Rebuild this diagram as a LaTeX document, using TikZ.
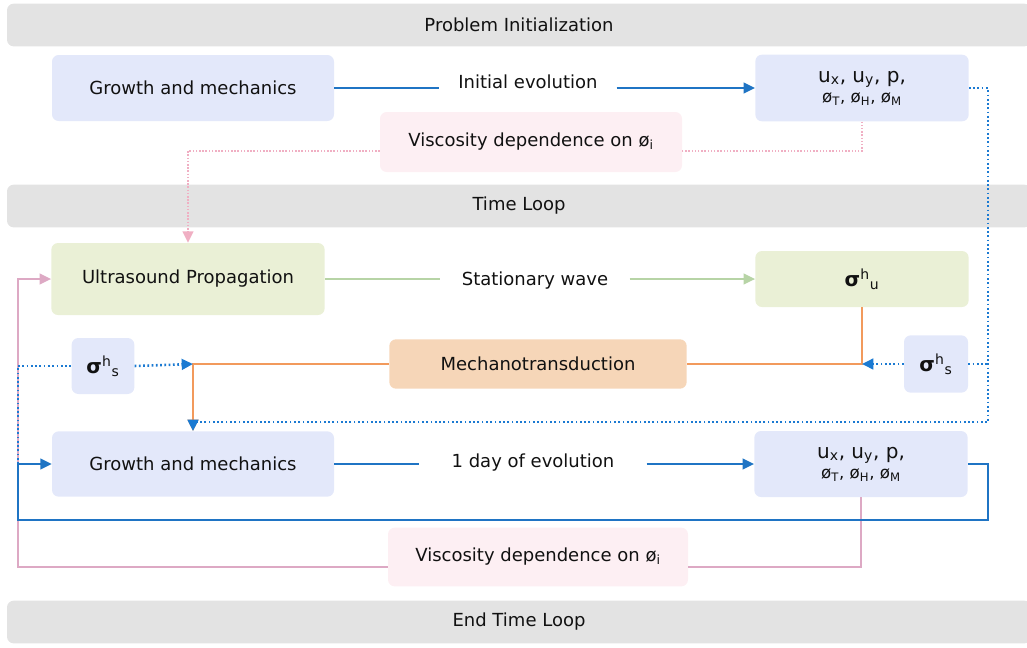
\documentclass[tikz,border=0pt]{standalone}
\usepackage{fontspec}
\setmainfont{DejaVu Sans}
\usetikzlibrary{arrows.meta,positioning}

\definecolor{bandgray}{HTML}{E3E3E3}
\definecolor{gmblue}{HTML}{E3E8FA}
\definecolor{usgreen}{HTML}{EAF0D6}
\definecolor{vispink}{HTML}{FDEFF3}
\definecolor{mechorange}{HTML}{F6D6B8}
\definecolor{lineblue}{HTML}{1F74C4}
\definecolor{dotblue}{HTML}{1B7AD2}
\definecolor{linegreen}{HTML}{B7D4A6}
\definecolor{lineorange}{HTML}{F29A5C}
\definecolor{linepink}{HTML}{DDA9C4}
\definecolor{dotpink}{HTML}{F0AFC3}
\definecolor{txt}{HTML}{111111}

\tikzset{
  box/.style={rounded corners=5pt, align=center, inner sep=0pt, text=txt,
    font=\fontsize{13.5}{16}\selectfont},
  gmbox/.style={box, fill=gmblue},
  usbox/.style={box, fill=usgreen},
  visbox/.style={box, fill=vispink},
  mechbox/.style={box, fill=mechorange},
  band/.style={box, fill=bandgray, minimum width=768pt, minimum height=32pt},
  lbl/.style={text=txt, inner ysep=2pt, inner xsep=14pt, font=\fontsize{13.5}{16}\selectfont},
  tip/.style={-{Triangle[length=8.5pt,width=8pt]}},
  blueflow/.style={draw=lineblue, line width=1.4pt},
  bluedot/.style={draw=dotblue, line width=1.9pt, dash pattern=on 1.3pt off 1.9pt},
  greenflow/.style={draw=linegreen, line width=1.1pt},
  orangeflow/.style={draw=lineorange, line width=1.3pt},
  pinkflow/.style={draw=linepink, line width=1.1pt},
  pinkdot/.style={draw=dotpink, line width=1.4pt, dash pattern=on 1.1pt off 1.3pt}
}
\newcommand{\sig}[1]{{\fontsize{15}{17}\selectfont\textbf{σ}\textsuperscript{h}\textsubscript{#1}}}
\newcommand{\fields}{{\fontsize{15}{17}\selectfont u\textsubscript{x}, u\textsubscript{y}, p,}\\[-1pt]
  {\fontsize{12.5}{14}\selectfont ø\textsubscript{T}, ø\textsubscript{H}, ø\textsubscript{M}}}

\begin{document}
\begin{tikzpicture}[x=0.75pt, y=-0.75pt]
  \useasboundingbox (0,0) rectangle (1027,647);

  \node[band] (init) at (519,25) {Problem Initialization};
  \node[band] (loop) at (519,206) {Time Loop};
  \node[band] (endloop) at (519,622) {End Time Loop};

  \node[gmbox, minimum width=211.5pt, minimum height=49.5pt] (gm1) at (193,88) {Growth and mechanics};
  \node[gmbox, minimum width=160pt, minimum height=50pt] (out1) at (862,88) {\fields};
  \node[visbox, minimum width=226.5pt, minimum height=45pt] (vis1) at (531,142) {Viscosity dependence on ø\textsubscript{i}};
  \node[usbox, minimum width=205pt, minimum height=54pt] (us) at (188,279) {Ultrasound Propagation};
  \node[usbox, minimum width=160pt, minimum height=42pt] (su) at (862,279) {\sig{u}};
  \node[gmbox, minimum width=47pt, minimum height=42pt] (ssl) at (103,366) {\sig{s}};
  \node[mechbox, minimum width=223pt, minimum height=37pt] (mech) at (538,364) {Mechanotransduction};
  \node[gmbox, minimum width=48pt, minimum height=43pt] (ssr) at (936,364) {\sig{s}};
  \node[gmbox, minimum width=211.5pt, minimum height=49pt] (gm2) at (193,464) {Growth and mechanics};
  \node[gmbox, minimum width=160pt, minimum height=49.5pt] (out2) at (861,464) {\fields};
  \node[visbox, minimum width=225pt, minimum height=44pt] (vis2) at (538,557) {Viscosity dependence on ø\textsubscript{i}};

  \node[lbl] (ev0) at (528,82) {Initial evolution};
  \node[lbl, inner xsep=16pt] (wave) at (535,281) {Stationary wave};
  \node[lbl, inner xsep=24pt] (ev1) at (533,463) {1 day of evolution};

  \coordinate (rtop) at (988,422);
  \coordinate (rb) at (988,520);
  \coordinate (lb) at (18,520);
  \coordinate (lp) at (18,567);

  \draw[blueflow] (gm1.east) -- (ev0.west |- gm1.east);
  \draw[blueflow, tip] (ev0.east |- gm1.east) -- (out1.west);
  \draw[pinkdot] (out1.south) |- ([yshift=-6.75pt]vis1.east);
  \draw[pinkdot, tip] ([yshift=-6.75pt]vis1.west) -| (us.north);

  \draw[greenflow] (us.east) -- (wave.west |- us.east);
  \draw[greenflow, tip] (wave.east |- us.east) -- (su.west);

  \draw[pinkflow] (out2.south) |- ([yshift=-7.5pt]vis2.east);
  \draw[pinkflow, tip] ([yshift=-7.5pt]vis2.west) -- (lp) |- (us.west);

  \draw[orangeflow] (su.south) |- (mech.east);
  \draw[orangeflow, tip] (mech.west) -| (gm2.north);

  \draw[bluedot, tip] (out1.east) -| (rtop) -| (gm2.north);
  \draw[bluedot] (ssr.east) -- (ssr.east -| rtop);
  \draw[bluedot, tip] (ssr.west) -- (mech.east -| su.south);
  \draw[bluedot] (lb |- gm2.west) |- (ssl.west);
  \draw[bluedot, tip] (ssl.east) -- (mech.west -| gm2.north);

  \draw[blueflow] (gm2.east) -- (ev1.west |- gm2.east);
  \draw[blueflow, tip] (ev1.east |- gm2.east) -- (out2.west);
  \draw[blueflow, tip] (out2.east) -| (rb) -- (lb) |- (gm2.west);
\end{tikzpicture}
\end{document}
